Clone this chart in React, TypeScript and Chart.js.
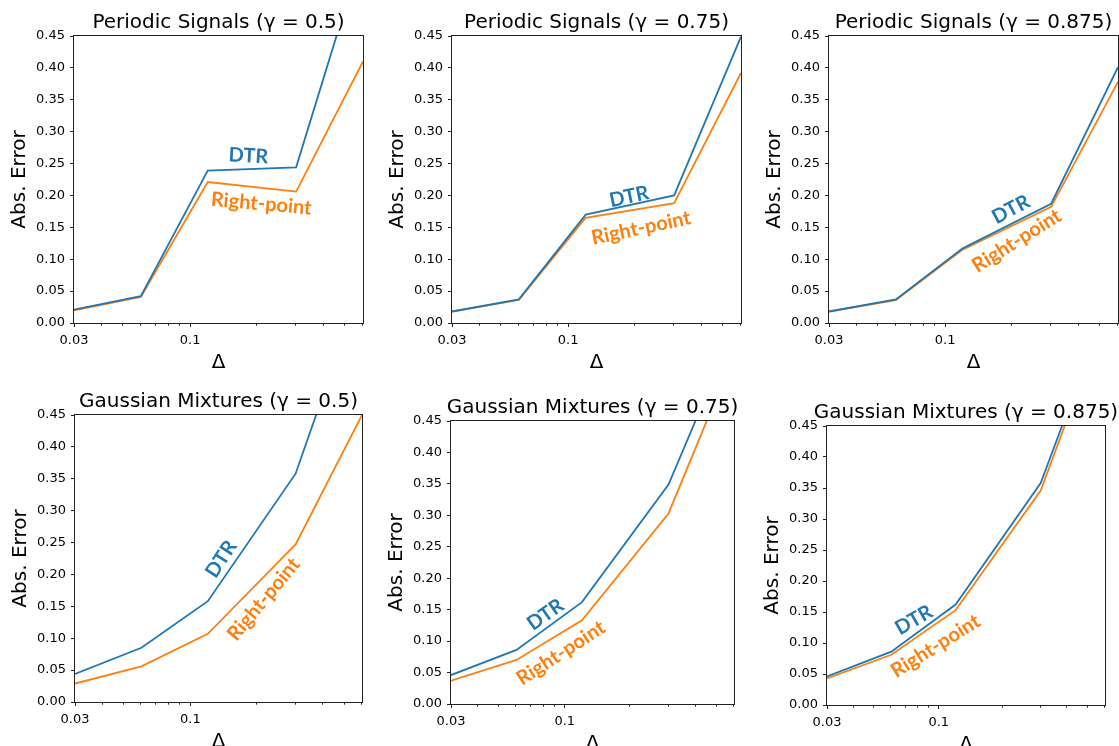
import React, { useEffect, useRef } from "react";
import { Chart, registerables } from "chart.js";

Chart.register(...registerables);

// ---------- data ----------
const DELTA = [0.03, 0.06, 0.12, 0.3, 0.6];
const X_TICKS = [0.03, 0.04, 0.05, 0.06, 0.07, 0.08, 0.09, 0.1, 0.2, 0.3, 0.4, 0.5, 0.6];
const X_LABELED = [0.03, 0.1];
const Y_TICKS = [0, 0.05, 0.1, 0.15, 0.2, 0.25, 0.3, 0.35, 0.4, 0.45];

const TITLES = [
  "Periodic Signals (γ = 0.5)",
  "Periodic Signals (γ = 0.75)",
  "Periodic Signals (γ = 0.875)",
  "Gaussian Mixtures (γ = 0.5)",
  "Gaussian Mixtures (γ = 0.75)",
  "Gaussian Mixtures (γ = 0.875)",
];

const PERIODIC_05_DTR = [0.021, 0.042, 0.239, 0.244, 0.585];
const PERIODIC_05_RP = [0.02, 0.041, 0.221, 0.206, 0.41];
const PERIODIC_075_DTR = [0.018, 0.037, 0.17, 0.2, 0.449];
const PERIODIC_075_RP = [0.018, 0.036, 0.165, 0.188, 0.392];
const PERIODIC_0875_DTR = [0.018, 0.037, 0.117, 0.187, 0.401];
const PERIODIC_0875_RP = [0.018, 0.036, 0.115, 0.182, 0.378];
const GAUSS_05_DTR = [0.044, 0.085, 0.158, 0.358, 0.656];
const GAUSS_05_RP = [0.029, 0.056, 0.107, 0.247, 0.45];
const GAUSS_075_DTR = [0.046, 0.086, 0.162, 0.349, 0.595];
const GAUSS_075_RP = [0.037, 0.07, 0.133, 0.303, 0.555];
const GAUSS_0875_DTR = [0.046, 0.086, 0.162, 0.358, 0.635];
const GAUSS_0875_RP = [0.043, 0.081, 0.153, 0.346, 0.625];

const SERIES_DTR = [PERIODIC_05_DTR, PERIODIC_075_DTR, PERIODIC_0875_DTR, GAUSS_05_DTR, GAUSS_075_DTR, GAUSS_0875_DTR];
const SERIES_RP = [PERIODIC_05_RP, PERIODIC_075_RP, PERIODIC_0875_RP, GAUSS_05_RP, GAUSS_075_RP, GAUSS_0875_RP];

// annotation anchors in data coordinates: [x, y, rotationDeg]
const DTR_LABEL_POS = [
  [0.183, 0.262, 3],
  [0.188, 0.198, -12],
  [0.198, 0.178, -28],
  [0.138, 0.224, -57],
  [0.0815, 0.142, -35],
  [0.0765, 0.137, -30],
];
const RP_LABEL_POS = [
  [0.209, 0.187, 5],
  [0.213, 0.149, -12],
  [0.21, 0.129, -32],
  [0.215, 0.161, -50],
  [0.096, 0.081, -33],
  [0.0966, 0.095, -32],
];

// ---------- layout (plot rectangles) ----------
const PLOT_RECTS = [
  { l: 74, t: 36, w: 289, h: 287 },
  { l: 452, t: 36, w: 289, h: 287 },
  { l: 829, t: 36, w: 289, h: 287 },
  { l: 75, t: 415, w: 287, h: 287 },
  { l: 451, t: 421, w: 283, h: 283 },
  { l: 827, t: 426, w: 278, h: 279 },
];

const BLUE = "#1f77b4";
const ORANGE = "#ff7f0e";
const AX_W = 74;
const TOP_PAD = 36;
const X_H = 53;
const PAD_R = 20;

function Panel({ idx }: { idx: number }) {
  const ref = useRef<HTMLCanvasElement | null>(null);
  const r = PLOT_RECTS[idx];
  const cw = r.w + AX_W + PAD_R;
  const ch = r.h + TOP_PAD + X_H;

  useEffect(() => {
    if (!ref.current) return;
    const dtr = SERIES_DTR[idx];
    const rp = SERIES_RP[idx];

    const decor = {
      id: "decor" + idx,
      afterDatasetsDraw(chart: any) {
        const { ctx, chartArea } = chart;
        const xs = chart.scales.x;
        const ys = chart.scales.y;
        ctx.save();
        const annos = [
          { text: "DTR", pos: DTR_LABEL_POS[idx], color: BLUE },
          { text: "Right-point", pos: RP_LABEL_POS[idx], color: ORANGE },
        ];
        for (const a of annos) {
          const px = xs.getPixelForValue(a.pos[0]);
          const py = ys.getPixelForValue(a.pos[1]);
          ctx.save();
          ctx.translate(px, py);
          ctx.rotate((a.pos[2] * Math.PI) / 180);
          ctx.font = "bold 20px Lato";
          ctx.fillStyle = a.color;
          ctx.textAlign = "center";
          ctx.textBaseline = "middle";
          ctx.fillText(a.text, 0, 0);
          ctx.restore();
        }
        ctx.strokeStyle = "#222";
        ctx.lineWidth = 1;
        ctx.strokeRect(
          Math.round(chartArea.left) - 0.5,
          Math.round(chartArea.top) - 0.5,
          Math.round(chartArea.right - chartArea.left) + 1,
          Math.round(chartArea.bottom - chartArea.top) + 1
        );
        ctx.beginPath();
        for (const v of X_TICKS) {
          if (X_LABELED.includes(v)) continue;
          const px = Math.round(xs.getPixelForValue(v)) - 0.5;
          ctx.moveTo(px, chartArea.bottom);
          ctx.lineTo(px, chartArea.bottom + 2.7);
        }
        ctx.stroke();
        ctx.font = "20px 'DejaVu Sans'";
        ctx.fillStyle = "#000";
        ctx.textAlign = "center";
        ctx.textBaseline = "alphabetic";
        ctx.fillText(TITLES[idx], (chartArea.left + chartArea.right) / 2, chartArea.top - 8);
        ctx.restore();
      },
    };

    const chart = new Chart(ref.current, {
      type: "line",
      data: {
        datasets: [
          {
            label: "DTR",
            data: DELTA.map((x, i) => ({ x, y: dtr[i] })),
            borderColor: BLUE,
            backgroundColor: BLUE,
            borderWidth: 1.8,
            pointRadius: 0,
            tension: 0,
          },
          {
            label: "Right-point",
            data: DELTA.map((x, i) => ({ x, y: rp[i] })),
            borderColor: ORANGE,
            backgroundColor: ORANGE,
            borderWidth: 1.8,
            pointRadius: 0,
            tension: 0,
          },
        ],
      },
      options: {
        animation: false,
        responsive: false,
        devicePixelRatio: 1,
        layout: { padding: { top: TOP_PAD, left: 0, right: PAD_R, bottom: 0 } },
        plugins: { legend: { display: false }, tooltip: { enabled: false }, title: { display: false } },
        scales: {
          x: {
            type: "logarithmic",
            min: 0.03,
            max: 0.6,
            afterBuildTicks: (s: any) => {
              s.ticks = X_TICKS.map((v) => ({ value: v, major: X_LABELED.includes(v) }));
            },
            afterFit: (s: any) => {
              s.height = X_H;
            },
            ticks: {
              autoSkip: false,
              maxRotation: 0,
              minRotation: 0,
              padding: 6,
              color: "#000",
              font: { family: "'DejaVu Sans'", size: 13 },
              callback: (v: any) => {
                const n = Number(v);
                if (Math.abs(n - 0.03) < 1e-9) return "0.03";
                if (Math.abs(n - 0.1) < 1e-9) return "0.1";
                return "";
              },
            },
            grid: {
              drawOnChartArea: false,
              drawTicks: true,
              tickLength: 4,
              tickWidth: 1,
              tickColor: (c: any) =>
                c.tick && X_LABELED.some((v) => Math.abs(v - c.tick.value) < 1e-9) ? "#222" : "rgba(0,0,0,0)",
            },
            border: { display: false },
            title: {
              display: true,
              text: "Δ",
              color: "#000",
              font: { family: "'DejaVu Sans'", size: 20 },
              padding: { top: 0, bottom: 1 },
            },
          },
          y: {
            type: "linear",
            min: 0,
            max: 0.45,
            afterBuildTicks: (s: any) => {
              s.ticks = Y_TICKS.map((v) => ({ value: v }));
            },
            afterFit: (s: any) => {
              s.width = AX_W;
            },
            ticks: {
              padding: 5,
              color: "#000",
              font: { family: "'DejaVu Sans'", size: 13 },
              callback: (v: any) => Number(v).toFixed(2),
            },
            grid: {
              drawOnChartArea: false,
              drawTicks: true,
              tickLength: 4,
              tickWidth: 1,
              tickColor: "#222",
            },
            border: { display: false },
            title: {
              display: true,
              text: "Abs. Error",
              color: "#000",
              font: { family: "'DejaVu Sans'", size: 20 },
              padding: { top: 8, bottom: 0 },
            },
          },
        },
      },
      plugins: [decor],
    } as any);
    return () => chart.destroy();
  }, [idx]);

  return (
    <canvas
      ref={ref}
      width={cw}
      height={ch}
      style={{ position: "absolute", left: r.l - AX_W, top: r.t - TOP_PAD, width: cw, height: ch }}
    />
  );
}

export default function App() {
  return (
    <div
      style={{
        position: "absolute",
        left: 0,
        top: 0,
        width: 1119,
        height: 746,
        overflow: "hidden",
        background: "#fff",
      }}
    >
      {PLOT_RECTS.map((_, i) => (
        <Panel key={i} idx={i} />
      ))}
    </div>
  );
}
